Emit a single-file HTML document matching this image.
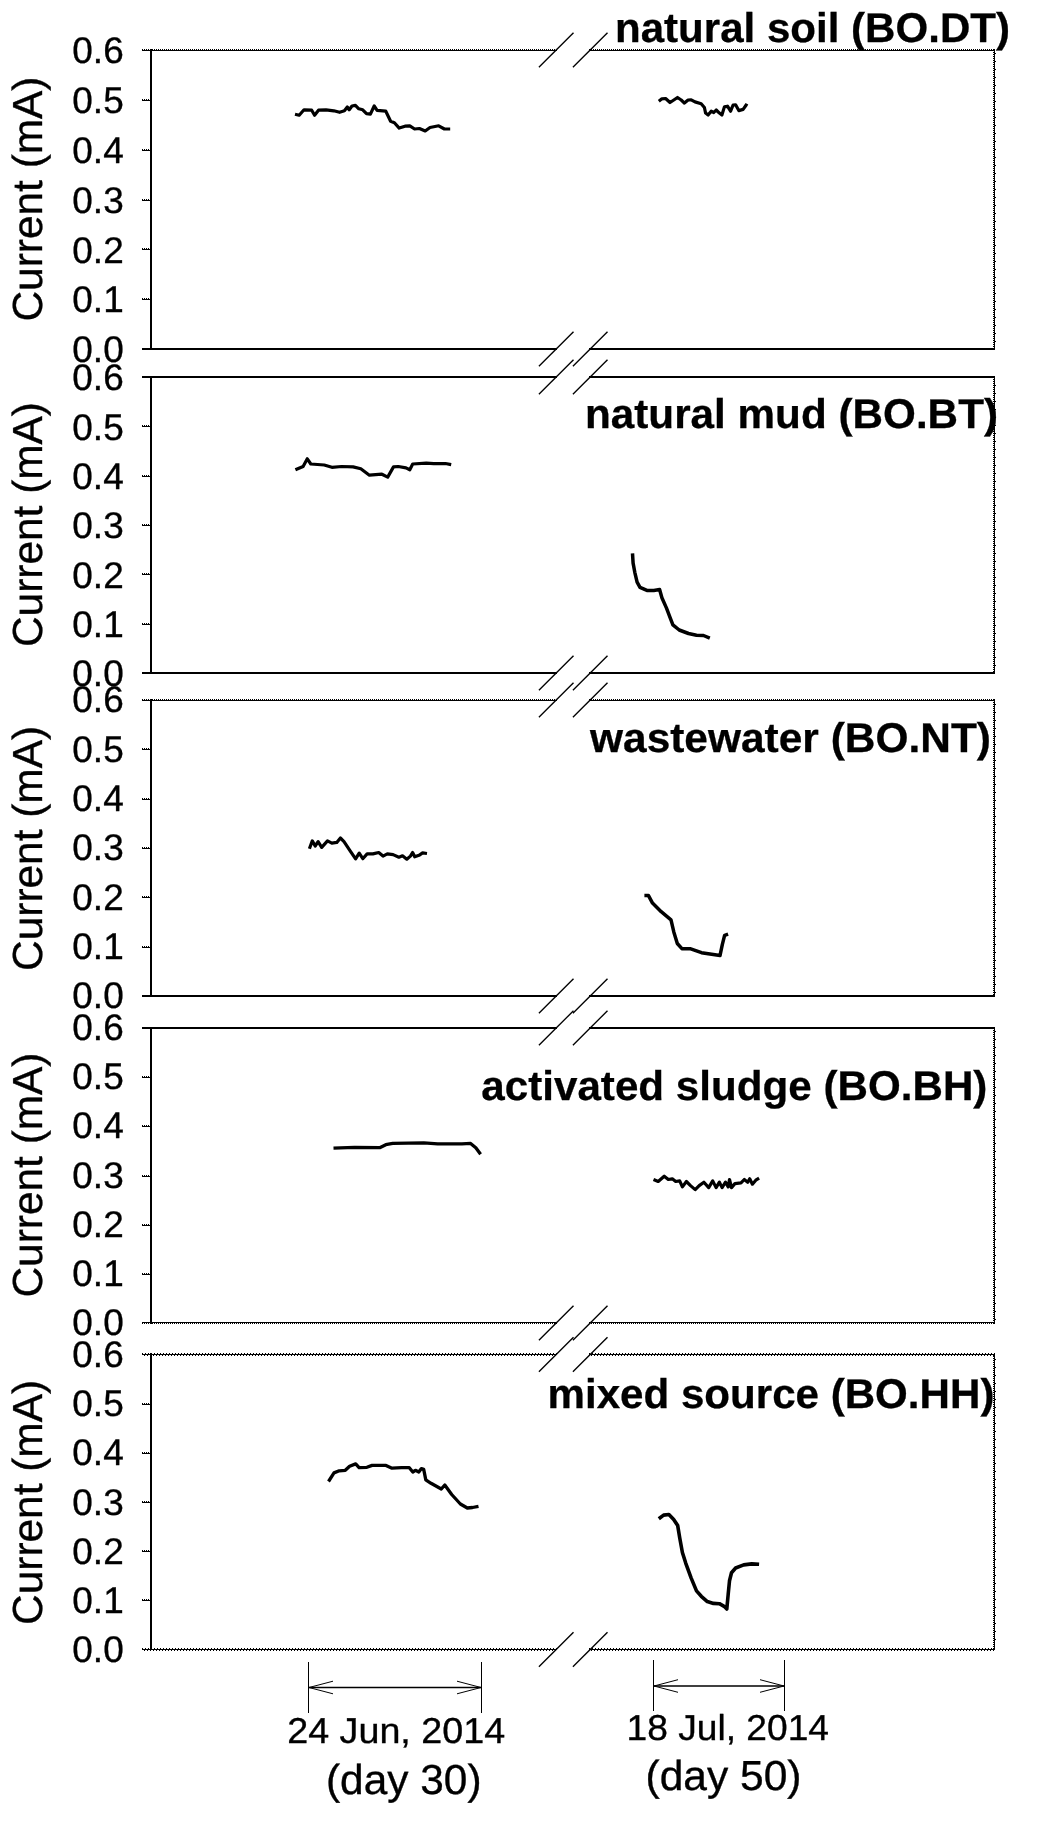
<!DOCTYPE html>
<html><head><meta charset="utf-8"><title>Current vs time</title>
<style>
html,body{margin:0;padding:0;background:#fff;}
body{width:1040px;height:1822px;overflow:hidden;}
svg{display:block;filter:grayscale(1);}
text{font-family:"Liberation Sans",sans-serif;fill:#000;stroke:#000;stroke-width:0.35;text-rendering:geometricPrecision;}
.r{fill:#000;shape-rendering:crispEdges;}
.d{stroke:#000;stroke-width:1;fill:none;shape-rendering:crispEdges;}
.thin{stroke:#000;stroke-width:1;fill:none;}
.sl{stroke:#000;stroke-width:1.35;fill:none;}
.cv{stroke:#000;fill:none;stroke-linejoin:round;stroke-linecap:butt;}
.tk{font-size:37px;}
.tt{font-size:41.5px;font-weight:bold;stroke-width:0.3;}
.yl{font-size:42px;}
</style></head><body>
<svg width="1040" height="1822" viewBox="0 0 1040 1822">
<rect x="0" y="0" width="1040" height="1822" fill="#fff"/>
<g id="p1">
<rect class="r" x="142" y="50" width="415" height="1"/>
<line class="d" x1="142" y1="49.5" x2="557" y2="49.5" stroke-dasharray="1 1" stroke-dashoffset="0"/>
<rect class="r" x="589" y="50" width="406" height="1"/>
<line class="d" x1="589" y1="49.5" x2="995" y2="49.5" stroke-dasharray="1 1" stroke-dashoffset="0"/>
<line class="sl" x1="538.9" y1="67.3" x2="573.5" y2="32.7"/>
<line class="sl" x1="572.9" y1="67.3" x2="607.5" y2="32.7"/>
<rect class="r" x="142" y="348" width="415" height="2"/>
<rect class="r" x="589" y="348" width="406" height="2"/>
<line class="sl" x1="538.9" y1="366.3" x2="573.5" y2="331.7"/>
<line class="sl" x1="572.9" y1="366.3" x2="607.5" y2="331.7"/>
<rect class="r" x="150" y="49" width="2" height="301"/>
<rect class="r" x="994" y="49" width="1" height="301"/>
<line class="d" x1="993.5" y1="50" x2="993.5" y2="349" stroke-dasharray="1 1"/>
<line class="d" x1="995.5" y1="53" x2="995.5" y2="347" stroke-dasharray="1 7"/>
<text class="tk" x="72.3" y="362.2" textLength="51.4" lengthAdjust="spacingAndGlyphs">0.0</text>
<rect class="r" x="142" y="299" width="8" height="1"/>
<line class="d" x1="142" y1="298.5" x2="150" y2="298.5" stroke-dasharray="1 1" stroke-dashoffset="0"/>
<text class="tk" x="72.3" y="312.4" textLength="51.4" lengthAdjust="spacingAndGlyphs">0.1</text>
<rect class="r" x="142" y="249" width="8" height="1"/>
<line class="d" x1="142" y1="248.5" x2="150" y2="248.5" stroke-dasharray="1 1" stroke-dashoffset="0"/>
<text class="tk" x="72.3" y="262.5" textLength="51.4" lengthAdjust="spacingAndGlyphs">0.2</text>
<rect class="r" x="142" y="200" width="8" height="1"/>
<line class="d" x1="142" y1="199.5" x2="150" y2="199.5" stroke-dasharray="1 1" stroke-dashoffset="0"/>
<text class="tk" x="72.3" y="212.7" textLength="51.4" lengthAdjust="spacingAndGlyphs">0.3</text>
<rect class="r" x="142" y="150" width="8" height="1"/>
<line class="d" x1="142" y1="149.5" x2="150" y2="149.5" stroke-dasharray="1 1" stroke-dashoffset="0"/>
<text class="tk" x="72.3" y="162.9" textLength="51.4" lengthAdjust="spacingAndGlyphs">0.4</text>
<rect class="r" x="142" y="100" width="8" height="1"/>
<line class="d" x1="142" y1="99.5" x2="150" y2="99.5" stroke-dasharray="1 1" stroke-dashoffset="0"/>
<text class="tk" x="72.3" y="113.0" textLength="51.4" lengthAdjust="spacingAndGlyphs">0.5</text>
<text class="tk" x="72.3" y="63.2" textLength="51.4" lengthAdjust="spacingAndGlyphs">0.6</text>
<text class="yl" transform="translate(42.4,321.5) rotate(-90)" textLength="245" lengthAdjust="spacingAndGlyphs">Current (mA)</text>
<text class="tt" x="615.0" y="42.0" textLength="395.0" lengthAdjust="spacingAndGlyphs">natural soil (BO.DT)</text>
</g>
<g id="p2">
<rect class="r" x="142" y="376" width="415" height="2"/>
<rect class="r" x="589" y="376" width="406" height="2"/>
<line class="sl" x1="538.9" y1="394.3" x2="573.5" y2="359.7"/>
<line class="sl" x1="572.9" y1="394.3" x2="607.5" y2="359.7"/>
<rect class="r" x="142" y="672" width="415" height="2"/>
<rect class="r" x="589" y="672" width="406" height="2"/>
<line class="sl" x1="538.9" y1="690.3" x2="573.5" y2="655.7"/>
<line class="sl" x1="572.9" y1="690.3" x2="607.5" y2="655.7"/>
<rect class="r" x="150" y="376" width="2" height="298"/>
<rect class="r" x="994" y="376" width="1" height="298"/>
<line class="d" x1="993.5" y1="377" x2="993.5" y2="673" stroke-dasharray="1 1"/>
<line class="d" x1="995.5" y1="385" x2="995.5" y2="671" stroke-dasharray="1 7"/>
<text class="tk" x="72.3" y="686.2" textLength="51.4" lengthAdjust="spacingAndGlyphs">0.0</text>
<rect class="r" x="142" y="624" width="8" height="1"/>
<line class="d" x1="142" y1="623.5" x2="150" y2="623.5" stroke-dasharray="1 1" stroke-dashoffset="0"/>
<text class="tk" x="72.3" y="636.9" textLength="51.4" lengthAdjust="spacingAndGlyphs">0.1</text>
<rect class="r" x="142" y="574" width="8" height="1"/>
<line class="d" x1="142" y1="573.5" x2="150" y2="573.5" stroke-dasharray="1 1" stroke-dashoffset="0"/>
<text class="tk" x="72.3" y="587.5" textLength="51.4" lengthAdjust="spacingAndGlyphs">0.2</text>
<rect class="r" x="142" y="525" width="8" height="1"/>
<line class="d" x1="142" y1="524.5" x2="150" y2="524.5" stroke-dasharray="1 1" stroke-dashoffset="0"/>
<text class="tk" x="72.3" y="538.2" textLength="51.4" lengthAdjust="spacingAndGlyphs">0.3</text>
<rect class="r" x="142" y="476" width="8" height="1"/>
<line class="d" x1="142" y1="475.5" x2="150" y2="475.5" stroke-dasharray="1 1" stroke-dashoffset="0"/>
<text class="tk" x="72.3" y="488.9" textLength="51.4" lengthAdjust="spacingAndGlyphs">0.4</text>
<rect class="r" x="142" y="426" width="8" height="1"/>
<line class="d" x1="142" y1="425.5" x2="150" y2="425.5" stroke-dasharray="1 1" stroke-dashoffset="0"/>
<text class="tk" x="72.3" y="439.5" textLength="51.4" lengthAdjust="spacingAndGlyphs">0.5</text>
<text class="tk" x="72.3" y="390.2" textLength="51.4" lengthAdjust="spacingAndGlyphs">0.6</text>
<text class="yl" transform="translate(42.4,647.0) rotate(-90)" textLength="245" lengthAdjust="spacingAndGlyphs">Current (mA)</text>
<text class="tt" x="585.0" y="428.2" textLength="413.0" lengthAdjust="spacingAndGlyphs">natural mud (BO.BT)</text>
</g>
<g id="p3">
<rect class="r" x="142" y="700" width="415" height="1"/>
<line class="d" x1="142" y1="699.5" x2="557" y2="699.5" stroke-dasharray="1 1" stroke-dashoffset="0"/>
<rect class="r" x="589" y="700" width="406" height="1"/>
<line class="d" x1="589" y1="699.5" x2="995" y2="699.5" stroke-dasharray="1 1" stroke-dashoffset="0"/>
<line class="sl" x1="538.9" y1="717.3" x2="573.5" y2="682.7"/>
<line class="sl" x1="572.9" y1="717.3" x2="607.5" y2="682.7"/>
<rect class="r" x="142" y="995" width="415" height="2"/>
<rect class="r" x="589" y="995" width="406" height="2"/>
<line class="sl" x1="538.9" y1="1013.3" x2="573.5" y2="978.7"/>
<line class="sl" x1="572.9" y1="1013.3" x2="607.5" y2="978.7"/>
<rect class="r" x="150" y="699" width="2" height="298"/>
<rect class="r" x="994" y="699" width="1" height="298"/>
<line class="d" x1="993.5" y1="700" x2="993.5" y2="996" stroke-dasharray="1 1"/>
<line class="d" x1="995.5" y1="704" x2="995.5" y2="994" stroke-dasharray="1 7"/>
<text class="tk" x="72.3" y="1008.3" textLength="51.4" lengthAdjust="spacingAndGlyphs">0.0</text>
<rect class="r" x="142" y="947" width="8" height="1"/>
<line class="d" x1="142" y1="946.5" x2="150" y2="946.5" stroke-dasharray="1 1" stroke-dashoffset="0"/>
<text class="tk" x="72.3" y="959.0" textLength="51.4" lengthAdjust="spacingAndGlyphs">0.1</text>
<rect class="r" x="142" y="897" width="8" height="1"/>
<line class="d" x1="142" y1="896.5" x2="150" y2="896.5" stroke-dasharray="1 1" stroke-dashoffset="0"/>
<text class="tk" x="72.3" y="909.6" textLength="51.4" lengthAdjust="spacingAndGlyphs">0.2</text>
<rect class="r" x="142" y="848" width="8" height="1"/>
<line class="d" x1="142" y1="847.5" x2="150" y2="847.5" stroke-dasharray="1 1" stroke-dashoffset="0"/>
<text class="tk" x="72.3" y="860.3" textLength="51.4" lengthAdjust="spacingAndGlyphs">0.3</text>
<rect class="r" x="142" y="799" width="8" height="1"/>
<line class="d" x1="142" y1="798.5" x2="150" y2="798.5" stroke-dasharray="1 1" stroke-dashoffset="0"/>
<text class="tk" x="72.3" y="811.0" textLength="51.4" lengthAdjust="spacingAndGlyphs">0.4</text>
<rect class="r" x="142" y="749" width="8" height="1"/>
<line class="d" x1="142" y1="748.5" x2="150" y2="748.5" stroke-dasharray="1 1" stroke-dashoffset="0"/>
<text class="tk" x="72.3" y="761.6" textLength="51.4" lengthAdjust="spacingAndGlyphs">0.5</text>
<text class="tk" x="72.3" y="712.3" textLength="51.4" lengthAdjust="spacingAndGlyphs">0.6</text>
<text class="yl" transform="translate(42.4,970.9) rotate(-90)" textLength="245" lengthAdjust="spacingAndGlyphs">Current (mA)</text>
<text class="tt" x="590.0" y="751.5" textLength="401.0" lengthAdjust="spacingAndGlyphs">wastewater (BO.NT)</text>
</g>
<g id="p4">
<rect class="r" x="142" y="1027" width="415" height="2"/>
<rect class="r" x="589" y="1027" width="406" height="2"/>
<line class="sl" x1="538.9" y1="1045.3" x2="573.5" y2="1010.7"/>
<line class="sl" x1="572.9" y1="1045.3" x2="607.5" y2="1010.7"/>
<rect class="r" x="142" y="1322" width="415" height="1"/>
<line class="d" x1="142" y1="1323.5" x2="557" y2="1323.5" stroke-dasharray="1 1" stroke-dashoffset="0"/>
<rect class="r" x="589" y="1322" width="406" height="1"/>
<line class="d" x1="589" y1="1323.5" x2="995" y2="1323.5" stroke-dasharray="1 1" stroke-dashoffset="0"/>
<line class="sl" x1="538.9" y1="1340.3" x2="573.5" y2="1305.7"/>
<line class="sl" x1="572.9" y1="1340.3" x2="607.5" y2="1305.7"/>
<rect class="r" x="150" y="1027" width="2" height="297"/>
<rect class="r" x="994" y="1027" width="1" height="297"/>
<line class="d" x1="993.5" y1="1028" x2="993.5" y2="1323" stroke-dasharray="1 1"/>
<line class="d" x1="995.5" y1="1031" x2="995.5" y2="1321" stroke-dasharray="1 7"/>
<text class="tk" x="72.3" y="1335.0" textLength="51.4" lengthAdjust="spacingAndGlyphs">0.0</text>
<rect class="r" x="142" y="1274" width="8" height="1"/>
<line class="d" x1="142" y1="1273.5" x2="150" y2="1273.5" stroke-dasharray="1 1" stroke-dashoffset="0"/>
<text class="tk" x="72.3" y="1285.8" textLength="51.4" lengthAdjust="spacingAndGlyphs">0.1</text>
<rect class="r" x="142" y="1225" width="8" height="1"/>
<line class="d" x1="142" y1="1224.5" x2="150" y2="1224.5" stroke-dasharray="1 1" stroke-dashoffset="0"/>
<text class="tk" x="72.3" y="1236.7" textLength="51.4" lengthAdjust="spacingAndGlyphs">0.2</text>
<rect class="r" x="142" y="1176" width="8" height="1"/>
<line class="d" x1="142" y1="1175.5" x2="150" y2="1175.5" stroke-dasharray="1 1" stroke-dashoffset="0"/>
<text class="tk" x="72.3" y="1187.5" textLength="51.4" lengthAdjust="spacingAndGlyphs">0.3</text>
<rect class="r" x="142" y="1126" width="8" height="1"/>
<line class="d" x1="142" y1="1125.5" x2="150" y2="1125.5" stroke-dasharray="1 1" stroke-dashoffset="0"/>
<text class="tk" x="72.3" y="1138.3" textLength="51.4" lengthAdjust="spacingAndGlyphs">0.4</text>
<rect class="r" x="142" y="1077" width="8" height="1"/>
<line class="d" x1="142" y1="1076.5" x2="150" y2="1076.5" stroke-dasharray="1 1" stroke-dashoffset="0"/>
<text class="tk" x="72.3" y="1089.2" textLength="51.4" lengthAdjust="spacingAndGlyphs">0.5</text>
<text class="tk" x="72.3" y="1040.0" textLength="51.4" lengthAdjust="spacingAndGlyphs">0.6</text>
<text class="yl" transform="translate(42.4,1297.5) rotate(-90)" textLength="245" lengthAdjust="spacingAndGlyphs">Current (mA)</text>
<text class="tt" x="481.3" y="1100.3" textLength="506.1" lengthAdjust="spacingAndGlyphs">activated sludge (BO.BH)</text>
</g>
<g id="p5">
<rect class="r" x="142" y="1354" width="415" height="1"/>
<line class="d" x1="142" y1="1353.5" x2="557" y2="1353.5" stroke-dasharray="1 2" stroke-dashoffset="0"/>
<line class="d" x1="142" y1="1355.5" x2="557" y2="1355.5" stroke-dasharray="1 2" stroke-dashoffset="1.5"/>
<rect class="r" x="589" y="1354" width="406" height="1"/>
<line class="d" x1="589" y1="1353.5" x2="995" y2="1353.5" stroke-dasharray="1 2" stroke-dashoffset="0"/>
<line class="d" x1="589" y1="1355.5" x2="995" y2="1355.5" stroke-dasharray="1 2" stroke-dashoffset="1.5"/>
<line class="sl" x1="538.9" y1="1371.8" x2="573.5" y2="1337.2"/>
<line class="sl" x1="572.9" y1="1371.8" x2="607.5" y2="1337.2"/>
<rect class="r" x="142" y="1649" width="415" height="1"/>
<line class="d" x1="142" y1="1648.5" x2="557" y2="1648.5" stroke-dasharray="1 2" stroke-dashoffset="0"/>
<line class="d" x1="142" y1="1650.5" x2="557" y2="1650.5" stroke-dasharray="1 2" stroke-dashoffset="1.5"/>
<rect class="r" x="589" y="1649" width="406" height="1"/>
<line class="d" x1="589" y1="1648.5" x2="995" y2="1648.5" stroke-dasharray="1 2" stroke-dashoffset="0"/>
<line class="d" x1="589" y1="1650.5" x2="995" y2="1650.5" stroke-dasharray="1 2" stroke-dashoffset="1.5"/>
<line class="sl" x1="538.9" y1="1666.8" x2="573.5" y2="1632.2"/>
<line class="sl" x1="572.9" y1="1666.8" x2="607.5" y2="1632.2"/>
<rect class="r" x="150" y="1353" width="2" height="297"/>
<rect class="r" x="994" y="1353" width="1" height="297"/>
<line class="d" x1="993.5" y1="1354" x2="993.5" y2="1649" stroke-dasharray="1 1"/>
<line class="d" x1="995.5" y1="1359" x2="995.5" y2="1647" stroke-dasharray="1 7"/>
<text class="tk" x="72.3" y="1662.0" textLength="51.4" lengthAdjust="spacingAndGlyphs">0.0</text>
<rect class="r" x="142" y="1600" width="8" height="1"/>
<line class="d" x1="142" y1="1599.5" x2="150" y2="1599.5" stroke-dasharray="1 1" stroke-dashoffset="0"/>
<text class="tk" x="72.3" y="1612.8" textLength="51.4" lengthAdjust="spacingAndGlyphs">0.1</text>
<rect class="r" x="142" y="1551" width="8" height="1"/>
<line class="d" x1="142" y1="1550.5" x2="150" y2="1550.5" stroke-dasharray="1 1" stroke-dashoffset="0"/>
<text class="tk" x="72.3" y="1563.7" textLength="51.4" lengthAdjust="spacingAndGlyphs">0.2</text>
<rect class="r" x="142" y="1502" width="8" height="1"/>
<line class="d" x1="142" y1="1501.5" x2="150" y2="1501.5" stroke-dasharray="1 1" stroke-dashoffset="0"/>
<text class="tk" x="72.3" y="1514.5" textLength="51.4" lengthAdjust="spacingAndGlyphs">0.3</text>
<rect class="r" x="142" y="1453" width="8" height="1"/>
<line class="d" x1="142" y1="1452.5" x2="150" y2="1452.5" stroke-dasharray="1 1" stroke-dashoffset="0"/>
<text class="tk" x="72.3" y="1465.3" textLength="51.4" lengthAdjust="spacingAndGlyphs">0.4</text>
<rect class="r" x="142" y="1404" width="8" height="1"/>
<line class="d" x1="142" y1="1403.5" x2="150" y2="1403.5" stroke-dasharray="1 1" stroke-dashoffset="0"/>
<text class="tk" x="72.3" y="1416.2" textLength="51.4" lengthAdjust="spacingAndGlyphs">0.5</text>
<text class="tk" x="72.3" y="1367.0" textLength="51.4" lengthAdjust="spacingAndGlyphs">0.6</text>
<text class="yl" transform="translate(42.4,1624.9) rotate(-90)" textLength="245" lengthAdjust="spacingAndGlyphs">Current (mA)</text>
<text class="tt" x="547.5" y="1407.6" textLength="446.9" lengthAdjust="spacingAndGlyphs">mixed source (BO.HH)</text>
</g>
<path class="cv" stroke-width="3.2" d="M295.0,114.2 L299.2,115.2 L304.0,109.8 L311.7,110.2 L314.6,115.2 L318.5,110.2 L326.0,109.8 L333.8,110.8 L339.6,112.3 L344.4,110.8 L347.3,107.0 L349.2,109.8 L352.0,106.0 L355.4,105.4 L358.8,108.8 L362.7,109.8 L366.5,113.7 L370.4,114.2 L374.2,106.0 L377.1,110.4 L385.8,111.2 L390.6,121.3 L394.4,122.7 L399.2,128.1 L405.0,126.2 L409.8,125.8 L414.6,129.0 L419.4,128.5 L425.2,131.0 L430.0,127.5 L438.7,125.8 L444.4,129.0 L450.2,129.0"/>
<path class="cv" stroke-width="3.2" d="M658.8,101.2 L661.9,98.8 L665.6,98.5 L670.0,102.5 L673.8,100.0 L677.5,97.5 L681.2,100.0 L684.4,103.1 L688.1,100.0 L691.2,99.8 L695.0,101.9 L701.2,103.8 L704.4,107.5 L705.6,113.1 L708.1,115.0 L711.2,111.2 L713.8,112.5 L716.2,110.0 L719.4,113.1 L721.9,115.0 L724.4,106.9 L727.5,106.2 L730.6,111.2 L733.1,105.0 L735.6,104.8 L738.8,110.6 L743.1,109.4 L746.2,105.0 L746.9,103.8"/>
<path class="cv" stroke-width="3.2" d="M295.4,469.8 L303.1,466.5 L307.3,458.8 L310.8,464.0 L324.2,465.0 L331.9,467.3 L341.5,466.5 L353.1,466.9 L360.8,468.8 L369.4,475.2 L381.9,474.2 L387.7,477.1 L393.5,466.9 L398.3,466.5 L406.0,467.9 L409.8,469.8 L412.7,464.0 L426.2,463.1 L433.8,463.7 L445.4,463.5 L451.2,464.6"/>
<path class="cv" stroke-width="3.5" d="M632.5,553.3 L633.1,563.1 L634.8,572.3 L637.1,582.1 L640.0,587.3 L646.9,590.4 L653.8,590.4 L659.6,589.6 L661.9,597.7 L666.5,608.1 L670.0,617.3 L672.9,624.8 L679.2,630.0 L688.5,633.5 L696.5,635.2 L703.5,635.5 L709.8,638.1"/>
<path class="cv" stroke-width="3.2" d="M309.4,848.8 L312.3,840.9 L315.2,846.0 L318.1,841.6 L321.7,847.4 L327.5,840.9 L331.8,843.1 L336.8,842.4 L340.4,838.0 L344.0,841.6 L349.8,850.3 L355.6,858.9 L359.2,853.2 L362.8,858.7 L367.1,853.9 L372.9,853.9 L378.7,852.5 L383.0,856.1 L387.3,853.9 L393.1,854.6 L398.9,857.2 L402.5,855.8 L406.8,859.2 L410.4,856.1 L412.6,852.5 L414.7,856.8 L419.0,855.3 L422.6,852.9 L427.0,853.5"/>
<path class="cv" stroke-width="3.5" d="M644.4,895.6 L648.5,895.6 L652.5,903.1 L661.2,911.7 L671.0,919.8 L673.8,931.9 L677.3,943.5 L681.9,948.7 L690.0,948.7 L701.5,952.7 L720.0,955.6 L722.3,944.6 L724.6,935.4 L728.1,934.2"/>
<path class="cv" stroke-width="3.3" d="M333.5,1148.2 L354.6,1147.3 L379.7,1147.7 L385.8,1144.7 L392.7,1143.4 L423.8,1142.8 L437.7,1143.9 L461.9,1143.9 L470.6,1143.4 L475.8,1147.7 L480.6,1154.3"/>
<path class="cv" stroke-width="3.2" d="M653.5,1179.5 L658.2,1181.5 L664.2,1176.2 L668.3,1179.5 L672.3,1178.8 L675.7,1181.5 L679.7,1180.9 L682.4,1186.9 L686.4,1181.5 L690.5,1185.6 L695.2,1189.6 L699.2,1185.6 L703.9,1182.2 L708.7,1187.6 L712.7,1180.9 L716.1,1187.6 L719.4,1182.2 L722.1,1187.6 L725.5,1182.2 L728.2,1186.9 L729.5,1179.5 L731.5,1187.6 L734.9,1183.6 L741.0,1182.9 L744.3,1179.5 L747.7,1182.2 L749.7,1178.8 L752.4,1184.2 L755.8,1180.2 L759.1,1178.2"/>
<path class="cv" stroke-width="3.3" d="M328.5,1481.5 L334.0,1472.9 L339.2,1470.8 L345.3,1470.3 L349.6,1466.3 L355.7,1463.9 L359.1,1467.7 L366.9,1467.3 L372.1,1465.4 L386.0,1465.4 L392.0,1468.2 L401.5,1467.7 L409.3,1467.7 L412.8,1472.0 L415.4,1470.3 L418.8,1472.0 L421.4,1468.6 L423.7,1469.4 L425.8,1479.8 L431.0,1483.3 L441.3,1489.0 L444.8,1485.0 L451.7,1494.5 L460.4,1504.0 L467.3,1508.0 L472.5,1507.5 L478.5,1506.3"/>
<path class="cv" stroke-width="3.6" d="M658.8,1518.8 L663.6,1515.1 L668.9,1514.5 L673.7,1519.5 L677.7,1525.6 L679.7,1537.7 L682.4,1552.5 L685.8,1563.3 L691.2,1578.1 L696.5,1590.9 L701.3,1596.3 L707.3,1601.6 L713.4,1603.4 L719.4,1603.7 L724.1,1606.3 L726.8,1609.0 L728.2,1594.2 L729.5,1580.8 L731.5,1572.7 L735.6,1568.0 L743.7,1564.9 L751.7,1563.9 L759.1,1564.3"/>
<line class="thin" x1="308.5" y1="1662" x2="308.5" y2="1713"/>
<line class="thin" x1="481.5" y1="1662" x2="481.5" y2="1713"/>
<line class="thin" x1="308.5" y1="1687.5" x2="481.5" y2="1687.5" style="stroke-width:1.5"/>
<polyline class="thin" points="333.0,1681.2 309.0,1687.5 333.0,1693.8"/>
<polyline class="thin" points="457.0,1681.2 481.0,1687.5 457.0,1693.8"/>
<line class="thin" x1="653.5" y1="1660" x2="653.5" y2="1711"/>
<line class="thin" x1="784.5" y1="1660" x2="784.5" y2="1711"/>
<line class="thin" x1="653.5" y1="1686" x2="784.5" y2="1686" style="stroke-width:1.5"/>
<polyline class="thin" points="678.0,1679.7 654.0,1686 678.0,1692.3"/>
<polyline class="thin" points="760.0,1679.7 784.0,1686 760.0,1692.3"/>
<text class="tk" style="font-size:36px" x="287.2" y="1743" textLength="218" lengthAdjust="spacingAndGlyphs">24 Jun, 2014</text>
<text class="yl" x="326" y="1793.8" textLength="155.5" lengthAdjust="spacingAndGlyphs">(day 30)</text>
<text class="tk" style="font-size:36px" x="626.5" y="1739.5" textLength="202.5" lengthAdjust="spacingAndGlyphs">18 Jul, 2014</text>
<text class="yl" x="645.5" y="1790" textLength="156" lengthAdjust="spacingAndGlyphs">(day 50)</text>
</svg></body></html>
